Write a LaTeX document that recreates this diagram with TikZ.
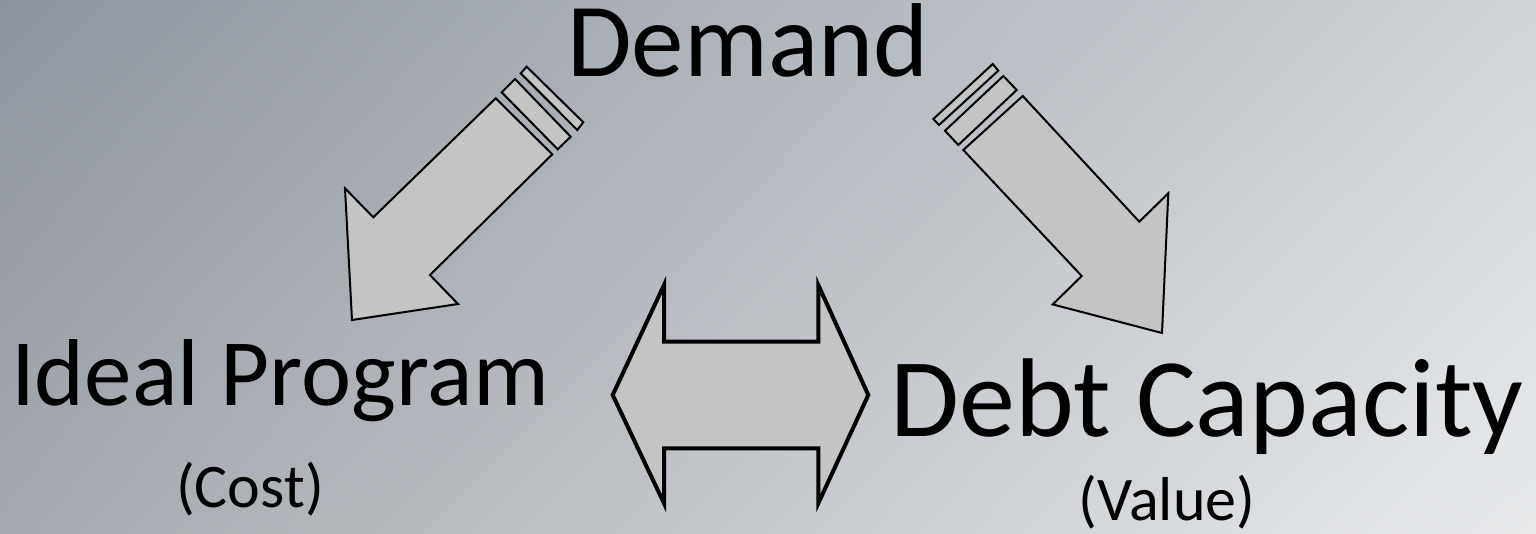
\documentclass[tikz,border=0pt]{standalone}
\usepackage{fontspec}
\setmainfont{Carlito}
\usetikzlibrary{shadings}
\definecolor{arrowfill}{HTML}{C4C4C4}
\definecolor{bgtl}{HTML}{8F959F}
\definecolor{bgtr}{HTML}{D0D4D8}
\definecolor{bgbl}{HTML}{A5A9AF}
\definecolor{bgbr}{HTML}{E8EAEC}
\tikzset{
  blockarrow/.style={draw=black, fill=arrowfill, line width=2pt, line join=miter},
  bigarrow/.style={draw=black, fill=arrowfill, line width=4pt, line join=miter},
  lbl/.style={inner sep=0pt, anchor=base, text=black},
}
\begin{document}
\begin{tikzpicture}[x=1pt, y=-1pt]
\useasboundingbox (0,0) rectangle (1536,533);
\shade[upper left=bgtl, upper right=bgtr, lower left=bgbl, lower right=bgbr] (0,0) rectangle (1536,533);

% left striped arrow (down-left)
\draw[blockarrow] (526.7,66.7) -- (583.3,122.3) -- (577.3,130) -- (520.7,73.3) -- cycle;
\draw[blockarrow] (515,79) -- (570.7,136.7) -- (557.7,149.3) -- (501.7,92.3) -- cycle;
\draw[blockarrow] (495.7,98.3) -- (552.3,154.3) -- (430,275) -- (458,304) -- (352,320) -- (345,188.3) -- (373.3,217.3) -- cycle;

% right striped arrow (down-right)
\draw[blockarrow] (992.7,64) -- (998.3,70.7) -- (939,125) -- (933.3,119) -- cycle;
\draw[blockarrow] (1003.3,76) -- (1016.7,90) -- (958.3,145) -- (945,130.7) -- cycle;
\draw[blockarrow] (1022.7,96) -- (1139.3,221.7) -- (1168.3,193.3) -- (1162,333) -- (1052.7,304.4) -- (1081.7,276) -- (963.3,150) -- cycle;

% double arrow
\draw[bigarrow] (612.7,395) -- (664,285) -- (664,341.7) -- (818.3,341.7) -- (818.3,285) -- (868.3,395)
  -- (818.3,503.3) -- (818.3,448.3) -- (664,448.3) -- (664,503.3) -- cycle;

% labels
\node[lbl, font=\fontsize{105}{110}\selectfont] (demand) at (748,76) {Demand};
\node[lbl, font=\fontsize{95}{100}\selectfont] (ideal) at (280,405) {Ideal Program};
\node[lbl, font=\fontsize{62}{66}\selectfont] (cost) at (250,507) {(Cost)};
\node[lbl, font=\fontsize{112}{118}\selectfont] (debt) at (1207,436) {Debt Capacity};
\node[lbl, font=\fontsize{62}{66}\selectfont] (value) at (1167,520) {(Value)};
\end{tikzpicture}
\end{document}
